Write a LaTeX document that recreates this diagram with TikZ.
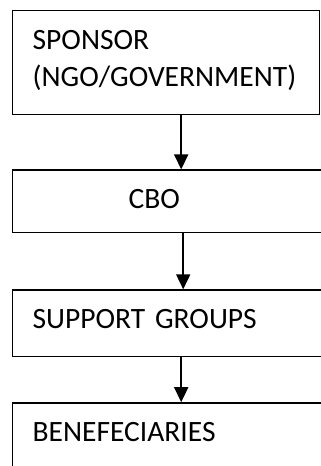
\documentclass[tikz,border=0pt]{standalone}
\usepackage{fontspec}
\setmainfont{Carlito}
\usepackage{tikz}
\usetikzlibrary{arrows,calc,arrows.meta,positioning}

\begin{document}
\begin{tikzpicture}[
            >={Triangle[width=14pt,length=15pt]},
            box/.style={draw, line width=1.4pt, rectangle, anchor=north west,
                align=left, inner xsep=20pt, inner ysep=0pt,
                text height=38.5pt, font=\fontsize{29.5}{37}\selectfont},
            link/.style={->, line width=1.8pt}
        ]
        \useasboundingbox (0,0) rectangle (321pt,-466pt);
        \clip (0,0) rectangle (321pt,-466pt);

        \node[box, text width=267pt, text depth=65.5pt] (sponsor) at (12pt,-10pt)
            {SPONSOR\\\mbox{(NGO/GOVERNMENT)}};
        \node[box, text width=300pt, text depth=24pt,
            below=54pt of sponsor.south west, anchor=north west] (cbo)
            {\hspace*{96pt}CBO};
        \node[box, text width=300pt, text depth=28pt,
            below=56pt of cbo.south west, anchor=north west] (support)
            {SUPPORT GROUPS};
        \node[box, text width=300pt, text depth=45pt,
            below=45pt of support.south west, anchor=north west] (benef)
            {BENEFECIARIES};

        \draw[link] ([xshift=15pt]sponsor.south) -- ([xshift=15pt]sponsor.south |- cbo.north);
        \draw[link] ([xshift=17pt]sponsor.south |- cbo.south) -- ([xshift=17pt]sponsor.south |- support.north);
        \draw[link] ([xshift=15pt]sponsor.south |- support.south) -- ([xshift=15pt]sponsor.south |- benef.north);
    \end{tikzpicture}
\end{document}
